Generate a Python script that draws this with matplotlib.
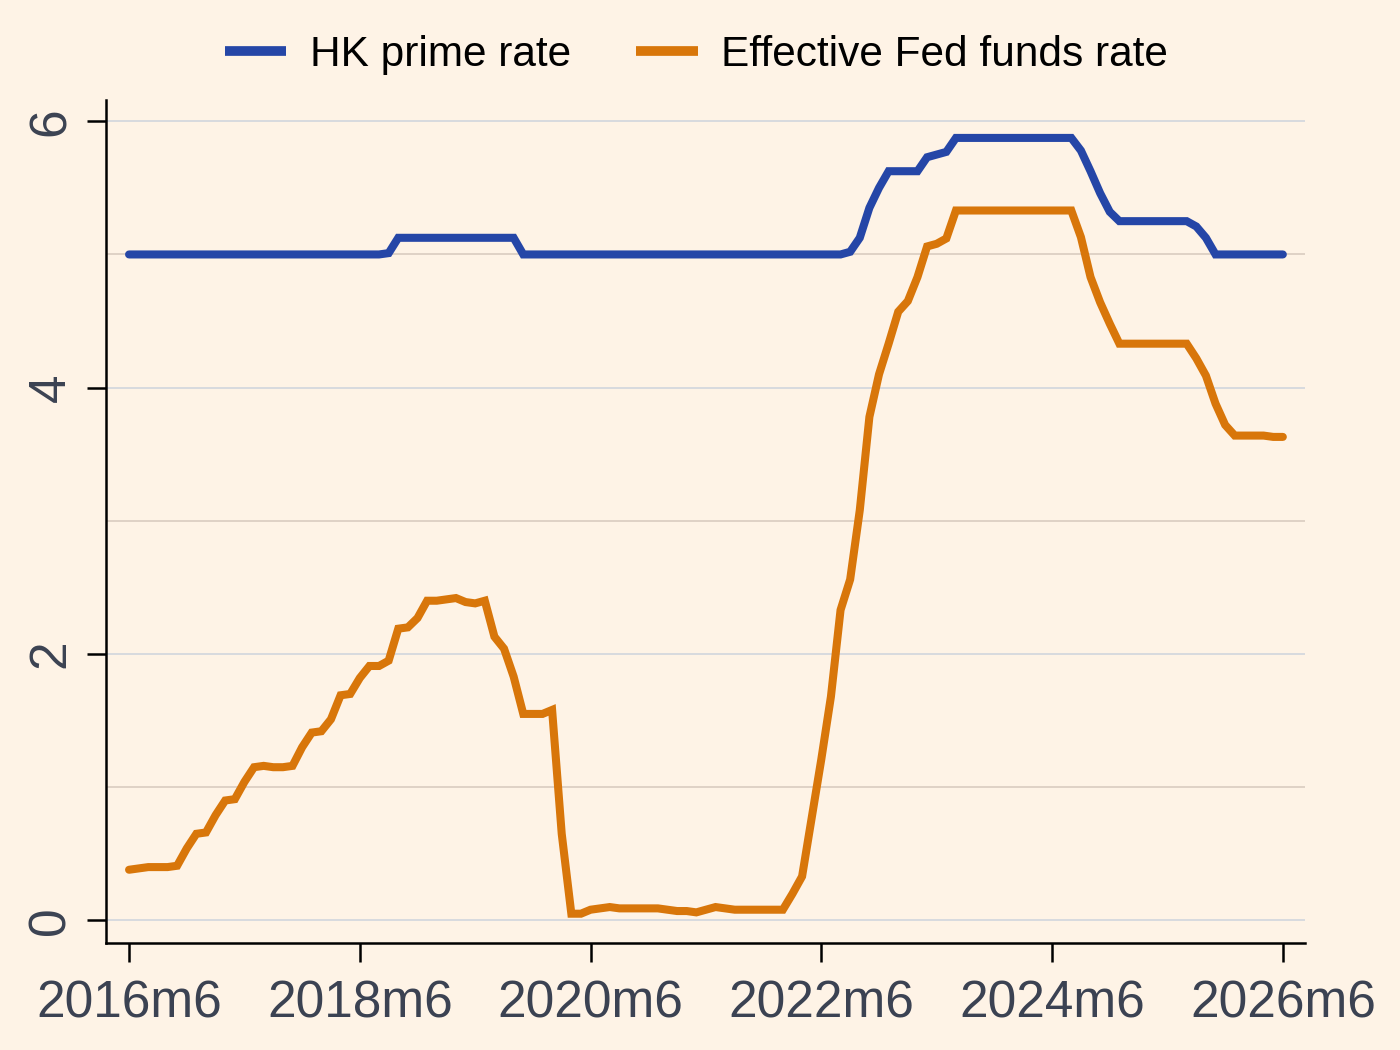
import matplotlib
matplotlib.use("Agg")
import matplotlib.pyplot as plt
import numpy as np

BG = "#fef3e6"
BLUE = "#2546a7"
ORANGE = "#d8760a"
TXT = "#3b4252"

plt.rcParams["font.family"] = ["Liberation Sans", "DejaVu Sans"]

# monthly data, 2016m6 .. 2026m6 (121 months)
start_year, start_month = 2016, 6
n_months = 121

hk_prime = (
    [5.00] * 27                                   # 2016m6 - 2018m8
    + [5.01]                                      # 2018m9
    + [5.125] * 13                                # 2018m10 - 2019m10
    + [5.00] * 34                                 # 2019m11 - 2022m8
    + [5.02, 5.125, 5.35, 5.50]                   # 2022m9 - 2022m12
    + [5.625] * 4                                 # 2023m1 - 2023m4
    + [5.73, 5.75, 5.77]                          # 2023m5 - 2023m7
    + [5.875] * 13                                # 2023m8 - 2024m8
    + [5.78, 5.625, 5.46, 5.32]                   # 2024m9 - 2024m12
    + [5.25] * 8                                  # 2025m1 - 2025m8
    + [5.21, 5.125]                               # 2025m9 - 2025m10
    + [5.00] * 8                                  # 2025m11 - 2026m6
)

fed_funds = [
    # 2016m6 - 2016m12
    0.38, 0.39, 0.40, 0.40, 0.40, 0.41, 0.54,
    # 2017
    0.65, 0.66, 0.79, 0.90, 0.91, 1.04, 1.15, 1.16, 1.15, 1.15, 1.16, 1.30,
    # 2018
    1.41, 1.42, 1.51, 1.69, 1.70, 1.82, 1.91, 1.91, 1.95, 2.19, 2.20, 2.27,
    # 2019
    2.40, 2.40, 2.41, 2.42, 2.39, 2.38, 2.40, 2.13, 2.04, 1.83, 1.55, 1.55,
    # 2020
    1.55, 1.58, 0.65, 0.05, 0.05, 0.08, 0.09, 0.10, 0.09, 0.09, 0.09, 0.09,
    # 2021
    0.09, 0.08, 0.07, 0.07, 0.06, 0.08, 0.10, 0.09, 0.08, 0.08, 0.08, 0.08,
    # 2022
    0.08, 0.08, 0.20, 0.33, 0.77, 1.21, 1.68, 2.33, 2.56, 3.08, 3.78, 4.10,
    # 2023
    4.33, 4.57, 4.65, 4.83, 5.06, 5.08, 5.12, 5.33, 5.33, 5.33, 5.33, 5.33,
    # 2024
    5.33, 5.33, 5.33, 5.33, 5.33, 5.33, 5.33, 5.33, 5.13, 4.83, 4.64, 4.48,
    # 2025
    4.33, 4.33, 4.33, 4.33, 4.33, 4.33, 4.33, 4.33, 4.22, 4.09, 3.88, 3.72,
    # 2026m1 - 2026m6
    3.64, 3.64, 3.64, 3.64, 3.63, 3.63,
]

months = np.arange(n_months)
tick_pos = np.arange(0, n_months, 24)
tick_labels = [f"{start_year + p // 12}m{start_month}" for p in tick_pos]

fig = plt.figure(figsize=(14, 10.5), dpi=100, facecolor=BG)
ax = fig.add_axes([0.0757, 0.1019, 0.8564, 0.8029])
ax.set_facecolor(BG)

ax.plot(months, hk_prime, color=BLUE, lw=5.8, solid_capstyle="round",
        solid_joinstyle="miter", label="HK prime rate", zorder=3)
ax.plot(months, fed_funds, color=ORANGE, lw=5.8, solid_capstyle="round",
        solid_joinstyle="miter", label="Effective Fed funds rate", zorder=3)

ax.set_xlim(-2.4, 122.3)
ax.set_ylim(-0.17, 6.16)

ax.set_xticks(tick_pos)
ax.set_xticklabels(tick_labels)
ax.set_yticks([0, 2, 4, 6])
ax.set_yticks([1, 3, 5], minor=True)
ax.tick_params(axis="both", which="major", length=14, width=1.8, color="black",
               labelsize=37, labelcolor=TXT)
ax.tick_params(axis="x", pad=12)
ax.tick_params(axis="y", pad=8)
ax.tick_params(axis="y", which="minor", length=0)
for lab in ax.get_yticklabels():
    lab.set_rotation(90)
    lab.set_va("center")

ax.grid(axis="y", which="major", color="#d5d8de", lw=1.3, zorder=0)
ax.grid(axis="y", which="minor", color="#dccfc3", lw=1.3, zorder=0)

for side in ["top", "right"]:
    ax.spines[side].set_visible(False)
for side in ["left", "bottom"]:
    ax.spines[side].set_linewidth(1.8)
    ax.spines[side].set_color("black")

leg = fig.legend(loc="center", bbox_to_anchor=(0.4975, 0.948), ncol=2,
                 frameon=False, fontsize=30.5, handlelength=1.45,
                 handletextpad=0.55, columnspacing=1.55)
for line in leg.get_lines():
    line.set_linewidth(7)
    line.set_solid_capstyle("butt")

fig.savefig("out.png", dpi=100, facecolor=BG)
